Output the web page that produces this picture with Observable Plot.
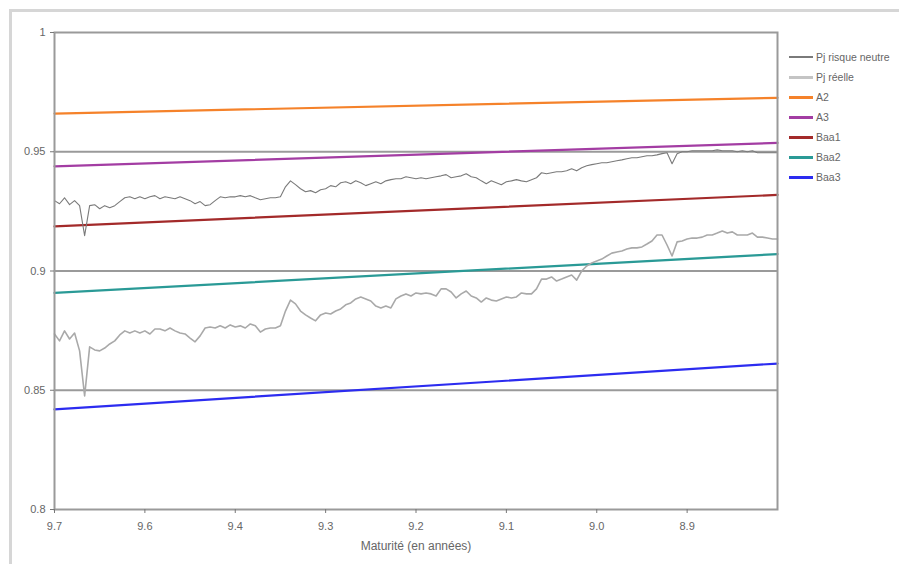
<!DOCTYPE html>
<html>
<head>
<meta charset="utf-8">
<script src="https://cdn.jsdelivr.net/npm/d3@7"></script>
<script src="https://cdn.jsdelivr.net/npm/@observablehq/plot@0.6"></script>
<style>
  html, body { margin: 0; padding: 0; background: #fff; width: 899px; height: 564px; overflow: hidden; }
  #wrap { position: relative; width: 899px; height: 564px; overflow: hidden; }
  #outer { position: absolute; left: 9px; top: 9px; width: 1000px; height: 1000px; border-top: 3px solid #d6d6d6; border-left: 3px solid #d6d6d6; }
  #chart { position: absolute; left: 0; top: 0; }
  #legend { position: absolute; left: 789px; top: 47px; font-family: "Liberation Sans", Arial, sans-serif; font-size: 10.5px; color: #666; white-space: nowrap; }
  .row { height: 20px; display: flex; align-items: center; }
  .sw { width: 24px; margin-right: 3px; }
</style>
</head>
<body>
<div id="wrap">
  <div id="outer"></div>
  <div id="chart"></div>
  <div id="legend"></div>
</div>
<script>
// X axis: observation index with tick labels (maturity in years)
const tickObs = [0, 18, 36, 54, 72, 90, 108, 126];
const tickLabels = ["9.7", "9.6", "9.4", "9.3", "9.2", "9.1", "9.0", "8.9"];
const yTicks = [0.8, 0.85, 0.9, 0.95, 1];
const gridValues = [0.85, 0.9, 0.95];

// Survival probability series (one value per observation)
const pjRisqueNeutre = [
  0.9295,0.9282,0.9307,0.9278,0.9295,0.9274,0.9148,0.9274,0.9278,0.9261,
  0.9274,0.9265,0.9274,0.9291,0.9307,0.9311,0.9303,0.9311,0.9303,0.9311,
  0.9316,0.9303,0.9311,0.9307,0.9303,0.9311,0.9303,0.9295,0.9282,0.9291,
  0.9274,0.9278,0.9295,0.9311,0.9307,0.9311,0.9311,0.9316,0.9311,0.9316,
  0.9307,0.9299,0.9303,0.9307,0.9307,0.9311,0.9353,0.9378,0.9362,0.9345,
  0.9332,0.9337,0.9328,0.9341,0.9345,0.9358,0.9353,0.9370,0.9374,0.9366,
  0.9378,0.9370,0.9358,0.9366,0.9374,0.9366,0.9378,0.9383,0.9387,0.9387,
  0.9395,0.9391,0.9387,0.9391,0.9387,0.9391,0.9395,0.9399,0.9404,0.9391,
  0.9395,0.9399,0.9408,0.9395,0.9391,0.9378,0.9366,0.9378,0.9370,0.9362,
  0.9374,0.9378,0.9383,0.9378,0.9374,0.9383,0.9391,0.9412,0.9408,0.9412,
  0.9416,0.9416,0.9420,0.9429,0.9420,0.9433,0.9441,0.9446,0.9450,0.9454,
  0.9454,0.9458,0.9462,0.9466,0.9471,0.9475,0.9475,0.9479,0.9483,0.9483,
  0.9487,0.9492,0.9496,0.9450,0.9492,0.9500,0.9500,0.9504,0.9504,0.9504,
  0.9504,0.9504,0.9508,0.9504,0.9504,0.9504,0.9500,0.9504,0.9500,0.9504,
  0.9496,0.9496,0.9496,0.9496,0.9496
];
const pjReelle = [
  0.8736,0.8707,0.8749,0.8715,0.8740,0.8665,0.8476,0.8682,0.8669,0.8665,
  0.8677,0.8694,0.8707,0.8732,0.8749,0.8740,0.8749,0.8740,0.8749,0.8736,
  0.8757,0.8757,0.8749,0.8761,0.8749,0.8740,0.8736,0.8719,0.8703,0.8728,
  0.8761,0.8765,0.8761,0.8770,0.8761,0.8774,0.8765,0.8770,0.8761,0.8778,
  0.8770,0.8744,0.8757,0.8761,0.8761,0.8770,0.8832,0.8878,0.8862,0.8832,
  0.8816,0.8803,0.8791,0.8816,0.8824,0.8820,0.8832,0.8841,0.8858,0.8866,
  0.8883,0.8891,0.8883,0.8874,0.8853,0.8845,0.8853,0.8845,0.8883,0.8895,
  0.8904,0.8895,0.8908,0.8904,0.8908,0.8904,0.8895,0.8925,0.8925,0.8912,
  0.8887,0.8904,0.8916,0.8895,0.8887,0.8870,0.8887,0.8878,0.8874,0.8883,
  0.8891,0.8887,0.8891,0.8908,0.8904,0.8904,0.8925,0.8966,0.8966,0.8975,
  0.8958,0.8966,0.8975,0.8983,0.8962,0.9000,0.9021,0.9034,0.9042,0.9050,
  0.9063,0.9075,0.9080,0.9084,0.9092,0.9097,0.9097,0.9101,0.9113,0.9126,
  0.9151,0.9151,0.9109,0.9063,0.9122,0.9126,0.9134,0.9138,0.9138,0.9142,
  0.9151,0.9151,0.9159,0.9168,0.9159,0.9164,0.9151,0.9151,0.9151,0.9159,
  0.9142,0.9142,0.9138,0.9134,0.9134
];

// Rating curves: [value at first observation, value at last observation]
const ratingNames = ["A2", "A3", "Baa1", "Baa2", "Baa3"];
const ratingStart = [0.9660, 0.9439, 0.9187, 0.8908, 0.8420];
const ratingEnd   = [0.9726, 0.9537, 0.9319, 0.9071, 0.8612];
const ratingColors = ["#f5822a", "#a33da3", "#a32a2a", "#2a9a96", "#2c2cf0"];

const lastObs = pjReelle.length - 1;

const seriesRows = [];
pjRisqueNeutre.forEach((v, i) => seriesRows.push({obs: i, value: v, serie: "rn"}));
pjReelle.forEach((v, i) => seriesRows.push({obs: i, value: v, serie: "re"}));

const ratingRows = [];
ratingNames.forEach((n, i) => {
  ratingRows.push({obs: 0, value: ratingStart[i], rating: n});
  ratingRows.push({obs: lastObs, value: ratingEnd[i], rating: n});
});

const chart = Plot.plot({
  width: 899,
  height: 564,
  marginLeft: 54,
  marginRight: 122,
  marginTop: 32,
  marginBottom: 55,
  style: {fontFamily: "'Liberation Sans', Arial, sans-serif", fontSize: "11px", color: "#666", background: "transparent"},
  x: {domain: [0, lastObs]},
  y: {domain: [0.8, 1]},
  color: {domain: ratingNames, range: ratingColors},
  marks: [
    Plot.ruleY(gridValues, {stroke: "#9a9a9a", strokeWidth: 2}),
    Plot.line(ratingRows, {x: "obs", y: "value", z: "rating", stroke: "rating", strokeWidth: 2.2}),
    Plot.line(seriesRows.filter(d => d.serie === "re"), {x: "obs", y: "value", stroke: "#a9a9a9", strokeWidth: 1.6}),
    Plot.line(seriesRows.filter(d => d.serie === "rn"), {x: "obs", y: "value", stroke: "#7a7a7a", strokeWidth: 1.1}),
    Plot.frame({stroke: "#9a9a9a", strokeWidth: 2}),
    Plot.axisY({ticks: yTicks, tickFormat: d => String(d), tickSize: 4, tickPadding: 5, stroke: "#777", label: null}),
    Plot.axisX({ticks: tickObs, tickFormat: d => tickLabels[tickObs.indexOf(d)], tickSize: 4, tickPadding: 9, stroke: "#777", label: null}),
    Plot.text(["Maturité (en années)"], {frameAnchor: "bottom", dy: 40, fill: "#666", fontSize: 12})
  ]
});
document.getElementById("chart").appendChild(chart);

// Legend
const legendItems = [
  {label: "Pj risque neutre", color: "#7a7a7a", width: 1.2},
  {label: "Pj réelle", color: "#c4c4c4", width: 3}
].concat(ratingNames.map((n, i) => ({label: n, color: ratingColors[i], width: 3})));
const legend = document.getElementById("legend");
legendItems.forEach(it => {
  const row = document.createElement("div");
  row.className = "row";
  const sw = document.createElement("div");
  sw.className = "sw";
  sw.style.height = it.width + "px";
  sw.style.background = it.color;
  const tx = document.createElement("span");
  tx.textContent = it.label;
  row.appendChild(sw);
  row.appendChild(tx);
  legend.appendChild(row);
});
</script>
</body>
</html>
